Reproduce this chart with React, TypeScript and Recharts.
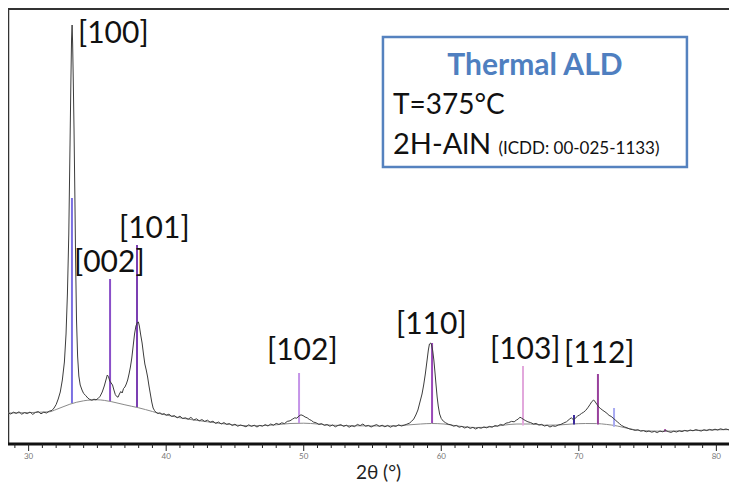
import React from 'react'
import {
  ComposedChart,
  Line,
  Scatter,
  XAxis,
  YAxis,
  ReferenceLine,
  ReferenceArea,
} from 'recharts'

// measured XRD scan: [2θ (°), intensity (a.u.)]
const scan: [number, number][] = [
  [28.5, 312], [28.7, 300], [28.9, 318], [29.1, 306], [29.3, 322], [29.5, 298], [29.7, 314],
  [29.9, 304], [30.1, 320], [30.3, 296], [30.5, 316], [30.7, 324], [30.9, 302], [31.1, 318],
  [31.3, 310], [31.5, 328], [31.7, 336], [31.85, 360], [32.0, 395], [32.15, 450], [32.3, 520],
  [32.45, 640], [32.6, 820], [32.72, 1100], [32.82, 1500], [32.92, 2100], [33.0, 2900],
  [33.07, 3600], [33.12, 4050], [33.16, 4190], [33.2, 4000], [33.25, 3600], [33.3, 3150],
  [33.36, 2500], [33.42, 1800], [33.48, 1250], [33.56, 880], [33.65, 680], [33.75, 590],
  [33.88, 540], [34.0, 505], [34.15, 485], [34.3, 460], [34.45, 445], [34.6, 438], [34.75, 448],
  [34.9, 442], [35.05, 455], [35.2, 478], [35.35, 520], [35.5, 580], [35.62, 640], [35.72, 690],
  [35.8, 675], [35.9, 630], [36.0, 610], [36.1, 590], [36.2, 540], [36.3, 495], [36.4, 475],
  [36.5, 468], [36.6, 500], [36.7, 525], [36.8, 510], [36.9, 555], [37.0, 570], [37.1, 600],
  [37.2, 640], [37.3, 700], [37.4, 770], [37.5, 860], [37.6, 980], [37.7, 1100], [37.8, 1180],
  [37.9, 1215], [37.98, 1220], [38.05, 1180], [38.15, 1090], [38.25, 1010], [38.35, 900],
  [38.45, 800], [38.55, 740], [38.65, 670], [38.75, 580], [38.85, 500], [38.95, 420],
  [39.05, 360], [39.15, 335], [39.25, 318], [39.4, 305], [39.55, 312], [39.7, 296], [39.85, 304],
  [40.0, 288], [40.2, 298], [40.4, 276], [40.6, 284], [40.8, 262], [41.0, 278], [41.2, 255],
  [41.4, 262], [41.6, 248], [41.8, 266], [42.0, 240], [42.2, 252], [42.4, 232], [42.6, 244],
  [42.8, 226], [43.0, 238], [43.2, 218], [43.4, 228], [43.6, 206], [43.8, 220], [44.0, 200],
  [44.2, 214], [44.4, 196], [44.6, 205], [44.8, 185], [45.0, 198], [45.2, 178], [45.4, 190],
  [45.6, 182], [45.8, 172], [46.0, 192], [46.2, 176], [46.4, 188], [46.6, 170], [46.8, 186],
  [47.0, 178], [47.2, 194], [47.4, 180], [47.6, 200], [47.8, 188], [48.0, 206], [48.2, 196],
  [48.4, 212], [48.6, 204], [48.8, 226], [49.0, 232], [49.2, 250], [49.35, 262], [49.5, 258],
  [49.65, 280], [49.8, 292], [49.95, 284], [50.1, 270], [50.25, 262], [50.4, 246], [50.55, 236],
  [50.7, 220], [50.9, 212], [51.1, 196], [51.3, 204], [51.5, 186], [51.7, 194], [51.9, 178],
  [52.1, 190], [52.3, 172], [52.5, 186], [52.7, 194], [52.9, 176], [53.1, 188], [53.3, 168],
  [53.5, 182], [53.7, 174], [53.9, 196], [54.1, 184], [54.3, 200], [54.5, 178], [54.7, 186],
  [54.9, 170], [55.1, 184], [55.3, 194], [55.5, 176], [55.7, 188], [55.9, 172], [56.1, 186],
  [56.3, 168], [56.5, 182], [56.7, 176], [56.9, 192], [57.1, 180], [57.3, 188], [57.5, 198],
  [57.7, 210], [57.85, 228], [58.0, 250], [58.15, 290], [58.3, 340], [58.45, 420], [58.6, 500],
  [58.72, 590], [58.84, 700], [58.96, 830], [59.06, 940], [59.14, 1000], [59.22, 1010],
  [59.3, 990], [59.38, 930], [59.46, 840], [59.54, 720], [59.62, 590], [59.7, 470], [59.78, 380],
  [59.88, 300], [60.0, 255], [60.15, 228], [60.3, 214], [60.5, 198], [60.7, 192], [60.9, 178],
  [61.1, 186], [61.3, 168], [61.5, 176], [61.7, 160], [61.9, 172], [62.1, 156], [62.3, 166],
  [62.5, 150], [62.7, 164], [62.9, 158], [63.1, 170], [63.3, 162], [63.5, 176], [63.7, 168],
  [63.9, 184], [64.1, 178], [64.3, 196], [64.5, 188], [64.7, 208], [64.9, 214], [65.1, 226],
  [65.3, 222], [65.45, 238], [65.6, 250], [65.72, 268], [65.85, 258], [66.0, 244], [66.15, 232],
  [66.3, 222], [66.5, 214], [66.7, 200], [66.9, 206], [67.1, 190], [67.3, 196], [67.5, 180],
  [67.7, 188], [67.9, 170], [68.1, 182], [68.3, 176], [68.5, 190], [68.7, 196], [68.9, 210],
  [69.1, 222], [69.3, 246], [69.45, 262], [69.6, 244], [69.75, 258], [69.9, 278], [70.05, 290],
  [70.2, 306], [70.35, 318], [70.5, 336], [70.65, 362], [70.8, 392], [70.95, 425], [71.08, 440],
  [71.2, 420], [71.32, 395], [71.45, 370], [71.6, 352], [71.75, 336], [71.9, 322], [72.05, 306],
  [72.2, 286], [72.35, 276], [72.5, 258], [72.65, 240], [72.8, 222], [72.95, 204], [73.1, 186],
  [73.3, 172], [73.5, 162], [73.7, 150], [73.9, 144], [74.1, 136], [74.3, 142], [74.5, 128],
  [74.7, 134], [74.9, 122], [75.1, 130], [75.3, 118], [75.5, 126], [75.7, 114], [75.9, 130],
  [76.1, 122], [76.3, 136], [76.5, 124], [76.7, 116], [76.9, 128], [77.1, 120], [77.3, 132],
  [77.5, 124], [77.7, 136], [77.9, 128], [78.1, 140], [78.3, 132], [78.5, 144], [78.7, 136],
  [78.9, 130], [79.1, 142], [79.3, 134], [79.5, 146], [79.7, 138], [79.9, 148], [80.1, 140],
  [80.3, 152], [80.5, 144], [80.7, 150], [80.9, 142], [81.1, 148], [81.3, 138], [81.5, 146],
]

// fitted background
const background: [number, number][] = [
  [28.5, 310], [31.5, 322], [32.0, 345], [32.5, 372], [33.0, 398], [33.5, 418], [34.0, 432],
  [34.5, 440], [35.0, 442], [35.5, 436], [36.0, 424], [36.5, 408], [37.0, 392], [37.5, 377],
  [38.0, 362], [38.5, 344], [39.0, 325], [39.5, 305], [40.0, 290], [41, 262], [42, 240],
  [43, 222], [44, 205], [45, 190], [46, 182], [47, 184], [48, 192], [49, 205], [50, 208],
  [51, 200], [52, 188], [54, 182], [56, 180], [57.5, 190], [58.5, 200], [59.3, 205], [60.2, 200],
  [61, 184], [62.5, 165], [63.5, 170], [64.5, 188], [65.5, 200], [66.5, 200], [67.5, 188],
  [68.5, 190], [69.5, 200], [70.5, 205], [71.3, 204], [72, 196], [72.8, 180], [73.5, 158],
  [74.5, 135], [76, 128], [78, 134], [80, 142], [81.5, 145],
]

// ICDD 00-025-1133 reference lines: 2θ, base, top
const stickPos = [33.15, 35.92, 37.88, 49.66, 59.33, 65.94, 69.65, 71.39, 72.56, 76.27, 81.0]
const stickBase = [410, 430, 370, 210, 210, 185, 195, 195, 172, 122, 148]
const stickTop = [2460, 1650, 1990, 710, 1010, 780, 290, 700, 360, 150, 220]
const stickColor = [
  '#7b70e2', '#8a4fc8', '#7b3fb2', '#c594e8', '#9a48b8', '#e2a8dc',
  '#3b2a9c', '#98409c', '#a8aaf2', '#b060b0', '#a04080',
]

// hkl labels, anchored in data coordinates (2θ, intensity)
const hkl = ['[100]', '[101]', '[002]', '[102]', '[110]', '[103]', '[112]']
const hklT = [33.59, 36.57, 33.3, 47.33, 56.71, 63.54, 68.92]
const hklI = [4010, 2060, 1720, 840, 1100, 850, 810]

const xTicks = Array.from({ length: 53 }, (_, i) => 29 + i)

const FONT = 'Lato, "Open Sans", sans-serif'

function AxisTick({ x, y, payload }: any) {
  const major = payload.value % 10 === 0
  return (
    <g>
      <line x1={x} x2={x} y1={y} y2={y + (major ? 7 : 4)} stroke="#222" strokeWidth={1} />
      {major && (
        <text x={x} y={y + 15} textAnchor="middle" fontSize={8} fill="#777" fontFamily={FONT}>
          {payload.value}
        </text>
      )}
    </g>
  )
}

function HklLabel({ cx, cy, payload }: any) {
  return (
    <text x={cx} y={cy} fontSize={30} fill="#111" fontFamily={FONT}>
      {payload.label}
    </text>
  )
}

function InfoBox({ x, y, width, height }: any) {
  return (
    <g fontFamily={FONT}>
      <rect x={x} y={y} width={width} height={height} fill="#fff" stroke="#5582bf" strokeWidth={2.5} />
      <text x={x + width / 2} y={y + 38} textAnchor="middle" fontSize={30} fontWeight="bold" fill="#4f7fc0">
        Thermal ALD
      </text>
      <text x={x + 10} y={y + 77} fontSize={28} fill="#111">T=375°C</text>
      <text x={x + 10} y={y + 117} fontSize={29} fill="#111">
        2H-AlN <tspan fontSize={17}>(ICDD: 00-025-1133)</tspan>
      </text>
    </g>
  )
}

export default function App() {
  const scanData = scan.map(([t, c]) => ({ t, c }))
  const bgData = background.map(([t, c]) => ({ t, c }))
  const labelData = hkl.map((label, i) => ({ t: hklT[i], c: hklI[i], label }))

  return (
    <div style={{ margin: '-8px 0 0 -8px', width: 737, height: 485, background: '#fff' }}>
      <ComposedChart width={737} height={485} margin={{ top: 9, right: 0, bottom: 0, left: 8 }}>
        <XAxis
          type="number"
          dataKey="t"
          domain={[28.5, 81.5]}
          allowDataOverflow
          ticks={xTicks}
          interval={0}
          height={41}
          tickSize={0}
          tickMargin={0}
          tickLine={false}
          axisLine={{ stroke: '#111', strokeWidth: 3 }}
          tick={<AxisTick />}
          label={{
            value: '2θ (°)',
            position: 'insideBottom',
            offset: 6,
            dx: 6,
            fontSize: 19,
            fill: '#222',
            fontFamily: FONT,
          }}
        />
        <YAxis type="number" dataKey="c" domain={[0, 4350]} allowDataOverflow hide />
        <ReferenceLine x={28.5} stroke="#333" strokeWidth={2.5} />
        <ReferenceLine y={4350} stroke="#333" strokeWidth={2} />
        <ReferenceArea x1={55.76} x2={77.86} y1={2770} y2={4070} shape={<InfoBox />} />
        <Line
          data={bgData}
          dataKey="c"
          type="monotone"
          stroke="#8a8a8a"
          strokeWidth={1}
          dot={false}
          isAnimationActive={false}
        />
        {stickPos.map((t, i) => (
          <ReferenceLine
            key={t}
            segment={[{ x: t, y: stickBase[i] }, { x: t, y: stickTop[i] }]}
            stroke={stickColor[i]}
            strokeWidth={2}
          />
        ))}
        <Line
          data={scanData}
          dataKey="c"
          type="linear"
          stroke="#3c3c3c"
          strokeWidth={1}
          dot={false}
          isAnimationActive={false}
        />
        <Scatter data={labelData} dataKey="c" shape={<HklLabel />} isAnimationActive={false} />
      </ComposedChart>
    </div>
  )
}
